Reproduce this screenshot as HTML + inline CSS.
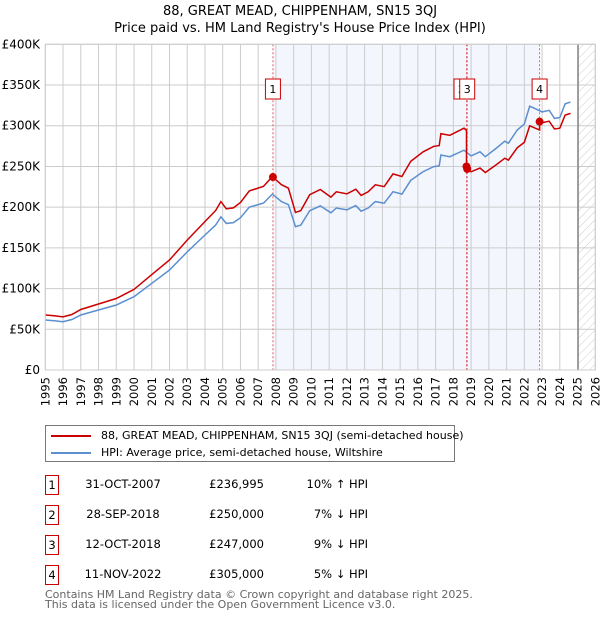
<!DOCTYPE html>
<html><head><meta charset="utf-8"><style>
body{margin:0;background:#fff;font-family:"DejaVu Sans","Liberation Sans",sans-serif;}
#wrap{position:relative;width:600px;height:620px;overflow:hidden;}
.t{position:absolute;white-space:nowrap;color:#000;}
</style></head><body>
<div id="wrap">
<div class="t" style="left:0;width:600px;text-align:center;top:3px;font-size:13px;line-height:17px;">88, GREAT MEAD, CHIPPENHAM, SN15 3QJ<br>Price paid vs. HM Land Registry's House Price Index (HPI)</div>
<svg id="chart" width="600" height="420" style="position:absolute;left:0;top:0;font-family:'DejaVu Sans','Liberation Sans',sans-serif;"></svg>
<div style="position:absolute;left:45px;top:425px;width:410px;height:37px;border:1px solid #777;box-sizing:border-box;font-size:11px;white-space:nowrap;">
 <div style="position:absolute;left:5px;top:3px;"><span style="display:inline-block;width:40px;height:2px;background:#cc0000;vertical-align:middle;margin-right:10px;"></span>88, GREAT MEAD, CHIPPENHAM, SN15 3QJ (semi-detached house)</div>
 <div style="position:absolute;left:5px;top:20px;"><span style="display:inline-block;width:40px;height:2px;background:#5b8fd0;vertical-align:middle;margin-right:10px;"></span>HPI: Average price, semi-detached house, Wiltshire</div>
</div>
<div id="table"></div>
<div class="t" style="left:45px;top:590px;font-size:11px;line-height:10px;color:#666;">Contains HM Land Registry data © Crown copyright and database right 2025.<br>This data is licensed under the Open Government Licence v3.0.</div>
</div>
<script>
const hpiYears=[1995,1995.5,1996,1996.5,1997,1998,1999,2000,2001,2002,2003,2004,2004.6,2004.9,2005.2,2005.6,2006,2006.5,2007.3,2007.8,2008.3,2008.7,2009.1,2009.4,2009.9,2010.5,2011.1,2011.4,2012,2012.5,2012.8,2013.2,2013.6,2014.1,2014.6,2015.1,2015.6,2016.3,2016.9,2017.2,2017.3,2017.8,2018.6,2019.0,2019.5,2019.8,2020.4,2020.9,2021.1,2021.6,2022.0,2022.3,2022.6,2023.0,2023.4,2023.7,2024.0,2024.3,2024.6];
const hpiValues=[61400,60500,59300,62000,67600,73700,79800,90000,106500,122800,145000,165800,178000,188000,180000,181000,187000,200000,205000,216000,207000,203000,176000,178000,195700,201500,193000,199000,196600,201900,195000,199000,206800,204800,219000,216000,233000,243600,249800,250600,264000,262000,270000,263000,268000,262000,272000,281000,278500,294800,302000,324000,321000,317000,319000,309000,310000,326800,329000];
const saleLabels=["1","2","3","4"];
const saleDates=[2007.83,2018.74,2018.78,2022.86];
const salePrices=[236995,250000,247000,305000];
const saleDateText=["31-OCT-2007","28-SEP-2018","12-OCT-2018","11-NOV-2022"];
const salePriceText=["£236,995","£250,000","£247,000","£305,000"];
const saleHpiText=["10% ↑ HPI","7% ↓ HPI","9% ↓ HPI","5% ↓ HPI"];
const yTicks=[0,50000,100000,150000,200000,250000,300000,350000,400000];
const yTickLabels=["£0","£50K","£100K","£150K","£200K","£250K","£300K","£350K","£400K"];
const xTicks=[1995,1996,1997,1998,1999,2000,2001,2002,2003,2004,2005,2006,2007,2008,2009,2010,2011,2012,2013,2014,2015,2016,2017,2018,2019,2020,2021,2022,2023,2024,2025,2026];

const X0=45.3,X1=595.3,Y0=370,Y1=44.3;
const xS=y=>X0+(y-1995)/(2026-1995)*(X1-X0);
const yS=v=>Y0-v/400000*(Y0-Y1);
const NS="http://www.w3.org/2000/svg";
const svg=document.getElementById('chart');
function mk(tag,attrs,parent){const e=document.createElementNS(NS,tag);for(const k in attrs)e.setAttribute(k,attrs[k]);(parent||svg).appendChild(e);return e;}
function hpiAt(t){for(let i=0;i<hpiYears.length-1;i++){if(t<=hpiYears[i+1]){const f=(t-hpiYears[i])/(hpiYears[i+1]-hpiYears[i]);return hpiValues[i]+f*(hpiValues[i+1]-hpiValues[i]);}}return hpiValues[hpiValues.length-1];}

const defs=mk('defs',{});
const pat=mk('pattern',{id:'hatch',width:6,height:6,patternUnits:'userSpaceOnUse',patternTransform:'rotate(45)'},defs);
mk('line',{x1:0,y1:0,x2:0,y2:6,stroke:'#ccc','stroke-width':1},pat);
let r=mk('rect',{x:xS(saleDates[0]),y:Y1,width:xS(saleDates[3])-xS(saleDates[0]),height:Y0-Y1,fill:'#f3f6fd'});

r=mk('rect',{x:xS(2025.03),y:Y1,width:X1-xS(2025.03),height:Y0-Y1,fill:'url(#hatch)'});

yTicks.forEach((v,i)=>{
 const l=mk('line',{x1:X0,x2:X1,y1:yS(v),y2:yS(v),stroke:'#ccc','stroke-width':1});
 
 const t=mk('text',{x:40,y:yS(v)+4,'text-anchor':'end','font-size':12,fill:'#000'});t.textContent=yTickLabels[i];
 
});
xTicks.forEach(y=>{
 const l=mk('line',{x1:xS(y),x2:xS(y),y1:Y1,y2:Y0,stroke:'#ccc','stroke-width':1});
 
 const tx=xS(y)+4,ty=377;
 const t=mk('text',{x:tx,y:ty,'text-anchor':'end','font-size':11.5,fill:'#000',transform:'rotate(-90 '+tx+' '+ty+')'});t.textContent=y;
 
});
let dl=mk('line',{x1:xS(2025.03),x2:xS(2025.03),y1:Y1,y2:Y0,stroke:'#888','stroke-width':1.5});

saleDates.forEach(d=>{const l=mk('line',{x1:xS(d),x2:xS(d),y1:Y1,y2:Y0,stroke:'#e06060','stroke-width':1,'stroke-dasharray':'2,2'});
 });
let p=hpiYears.map((y,i)=>(i?'L':'M')+xS(y).toFixed(1)+','+yS(hpiValues[i]).toFixed(1)).join('');
let hl=mk('path',{d:p,fill:'none',stroke:'#5b8fd0','stroke-width':1.5});

function ratioAt(t){let k=0;for(let i=0;i<saleDates.length;i++)if(t>=saleDates[i])k=i;return salePrices[k]/hpiAt(saleDates[k]);}
let pts=[];
const times=hpiYears.slice();saleDates.forEach(d=>{times.push(d-0.0001);times.push(d);});times.sort((a,b)=>a-b);
times.forEach(t=>pts.push([xS(t),yS(hpiAt(t)*ratioAt(t))]));
p=pts.map((q,i)=>(i?'L':'M')+q[0].toFixed(1)+','+q[1].toFixed(1)).join('');
let pl=mk('path',{d:p,fill:'none',stroke:'#cc0000','stroke-width':1.5});

const boxX=[0,-5,0,0];
saleDates.forEach((d,i)=>{
 const c=mk('circle',{cx:xS(d),cy:yS(salePrices[i]),r:4,fill:'#cc0000'});
 
 const bx=xS(d)-7.5+boxX[i];
 const b=mk('rect',{x:bx,y:79,width:15,height:20,fill:'#fff',stroke:'#cc0000','stroke-width':1});
 
 const t=mk('text',{x:bx+7.5,y:93,'text-anchor':'middle','font-size':11,fill:'#000'});t.textContent=saleLabels[i];
 
});
let fr=mk('rect',{x:X0,y:Y1,width:X1-X0,height:Y0-Y1,fill:'none',stroke:'#ccc'});

const tb=document.getElementById('table');
saleLabels.forEach((s,i)=>{
 const top=475+i*30;
 const row=document.createElement('div');
 
 
 row.style.cssText='position:absolute;left:0;top:'+top+'px;width:600px;height:20px;font-size:11.5px;';
 row.innerHTML='<div style="position:absolute;left:45px;top:0;width:12px;height:18px;border:1px solid #cc0000;text-align:center;line-height:18px;">'+s+'</div>'+
 '<div style="position:absolute;left:73px;width:100px;text-align:center;top:2px;">'+saleDateText[i]+'</div>'+
 '<div style="position:absolute;left:164px;width:100px;text-align:right;top:2px;">'+salePriceText[i]+'</div>'+
 '<div style="position:absolute;left:268px;width:100px;text-align:right;top:2px;">'+saleHpiText[i]+'</div>';
 tb.appendChild(row);
});
</script>
</body></html>
